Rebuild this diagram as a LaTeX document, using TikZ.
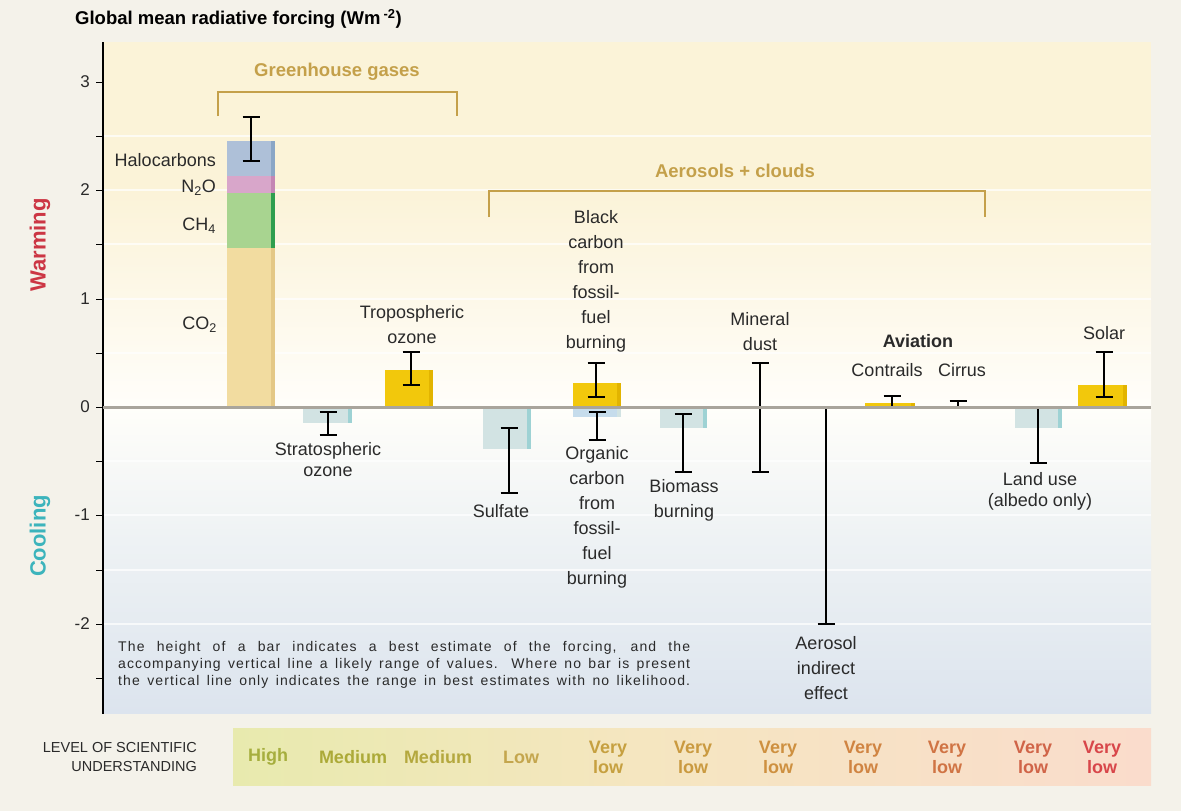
\documentclass[tikz,border=0pt]{standalone}
\usepackage{fontspec}
\setmainfont{Liberation Sans}
\newfontfamily\notefont[LetterSpace=8]{Liberation Sans}
\definecolor{outerbg}{HTML}{F4F2EA}
\definecolor{warmtop}{HTML}{FBF3D8}
\definecolor{warmmid}{HTML}{FDF8E9}
\definecolor{nearzero}{HTML}{FFFEFA}
\definecolor{coolmid}{HTML}{EEF2F4}
\definecolor{coolbot}{HTML}{DCE4EE}
\definecolor{labtxt}{HTML}{2A2A2A}
\definecolor{golden}{HTML}{C4A04A}
\definecolor{zeroln}{HTML}{A9A59C}
\definecolor{warmred}{HTML}{CC3644}
\definecolor{coolteal}{HTML}{3CB4BC}
\definecolor{co2c}{HTML}{F2DCA0}\definecolor{co2e}{HTML}{E4C886}
\definecolor{ch4c}{HTML}{A8D490}\definecolor{ch4e}{HTML}{2E9E4E}
\definecolor{n2oc}{HTML}{D8A6CA}\definecolor{n2oe}{HTML}{C486B4}
\definecolor{haloc}{HTML}{AEC0D8}\definecolor{haloe}{HTML}{8AA6C6}
\definecolor{yelc}{HTML}{F2C80C}\definecolor{yele}{HTML}{E2B400}
\definecolor{negc}{HTML}{D2E3E3}\definecolor{nege}{HTML}{9ED2D4}
\definecolor{occ}{HTML}{C6DCEC}
\definecolor{losuL}{HTML}{E8EAAE}\definecolor{losuM}{HTML}{F5E6C0}\definecolor{losuR}{HTML}{FADCCC}
\definecolor{lA}{HTML}{A6AE3E}\definecolor{lB}{HTML}{ACAA38}\definecolor{lC}{HTML}{B4A83E}
\definecolor{lD}{HTML}{C4A64E}\definecolor{lE}{HTML}{C6A040}\definecolor{lF}{HTML}{CA9A40}
\definecolor{lG}{HTML}{CE9040}\definecolor{lH}{HTML}{D08442}\definecolor{lI}{HTML}{D07444}
\definecolor{lJ}{HTML}{D06448}\definecolor{lK}{HTML}{D8464A}
% error bar with caps: x, y1, y2
\newcommand\errbar[3]{%
  \draw[err] (#1,#2) -- (#1,#3);
  \draw[err] (#1-8.5,#2) -- (#1+8.5,#2);
  \draw[err] (#1-8.5,#3) -- (#1+8.5,#3);}
% bar with darker right edge: x1, x2, ytop, ybottom, body, edge
\newcommand\fbar[6]{%
  \fill[#5] (#1,#3) rectangle (#2,#4);
  \fill[#6] (#2-4.5,#3) rectangle (#2,#4);}
\begin{document}
\begin{tikzpicture}[x=1pt,y=-1pt,
  err/.style={black, line width=1.5pt},
  lbl/.style={font=\fontsize{18}{25}\selectfont, text=labtxt, align=center, inner sep=0pt},
  lbltight/.style={font=\fontsize{18}{21}\selectfont, text=labtxt, align=center, inner sep=0pt},
  ticklbl/.style={font=\fontsize{17}{20}\selectfont, text=labtxt, anchor=east, inner sep=0pt},
  grouplbl/.style={font=\fontsize{18.5}{22}\selectfont\bfseries, text=golden, inner sep=0pt},
  bracket/.style={golden, line width=1.3pt},
  losu/.style={font=\fontsize{18}{20}\selectfont\bfseries, align=center, inner sep=0pt},
  notelbl/.style={font=\fontsize{14}{16.5}\selectfont\notefont, text=labtxt, anchor=west, inner sep=0pt}]
\useasboundingbox (0,0) rectangle (1181,811);
\fill[outerbg] (0,0) rectangle (1181,811);

% plot background: warm tint above zero, cool tint below
\fill[warmtop] (104,42) rectangle (1151,190);
\shade[top color=warmtop, bottom color=warmmid] (104,189.5) rectangle (1151,300);
\shade[top color=warmmid, bottom color=nearzero] (104,299.5) rectangle (1151,407);
\shade[top color=nearzero, bottom color=coolmid] (104,407) rectangle (1151,540);
\shade[top color=coolmid, bottom color=coolbot] (104,539.5) rectangle (1151,713);
\foreach \yy in {136,190,244,299,353,461,515,570,624}
  \draw[white, line width=1.2pt, opacity=0.7] (104,\yy) -- (1151,\yy);

% title
\node[anchor=west, inner sep=0pt, font=\fontsize{18.5}{22}\selectfont\bfseries, text=black] (title) at (75,19)
  {Global mean radiative forcing (Wm\,\textsuperscript{-2})};

% vertical axis and ticks
\draw[black, line width=1.6pt] (103,42) -- (103,714);
\foreach \yy in {82,136,190,244,299,353,407,461,515,570,624,678}
  \draw[black, line width=1pt] (96,\yy) -- (103,\yy);
\node[ticklbl] (t3) at (90,82) {3};
\node[ticklbl] (t2) at (90,190) {2};
\node[ticklbl] (t1) at (90,299) {1};
\node[ticklbl] (t0) at (90,407) {0};
\node[ticklbl] (tm1) at (90,515) {-1};
\node[ticklbl] (tm2) at (90,624) {-2};
\node[rotate=90, inner sep=0pt, font=\fontsize{22}{24}\selectfont\bfseries, text=warmred] (warm) at (40,245) {Warming};
\node[rotate=90, inner sep=0pt, font=\fontsize{22}{24}\selectfont\bfseries, text=coolteal] (cool) at (40,536) {Cooling};

% group brackets
\draw[bracket] (218,116) -- (218,92) -- (457,92) -- (457,116);
\node[grouplbl] (ghg) at (337,72) {Greenhouse gases};
\draw[bracket] (489,217) -- (489,191) -- (985,191) -- (985,217);
\node[grouplbl] (aer) at (735,171) {Aerosols + clouds};

% well-mixed greenhouse gases (stacked)
\fbar{227}{275}{248}{407}{co2c}{co2e}
\fbar{227}{275}{193}{248}{ch4c}{ch4e}
\fbar{227}{275}{176}{193}{n2oc}{n2oe}
\fbar{227}{275}{141}{176}{haloc}{haloe}
\errbar{251}{117}{161}
\node[lbl, anchor=east] (halo) at (216,160) {Halocarbons};
\node[lbl, anchor=east] (n2o) at (216,188) {N\textsubscript{2}O};
\node[lbl, anchor=east] (ch4) at (216,226) {CH\textsubscript{4}};
\node[lbl, anchor=east] (co2) at (217,325) {CO\textsubscript{2}};

% ozone
\fbar{303}{352}{407}{423}{negc}{nege}
\errbar{328}{412}{435}
\node[lbltight] (strat) at (328,460) {Stratospheric\\ozone};
\fbar{385}{433}{370}{407}{yelc}{yele}
\errbar{411}{352}{385}
\node[lbl] (trop) at (412,325) {Tropospheric\\ozone};

% aerosols
\fbar{483}{531}{407}{449}{negc}{nege}
\errbar{509}{428}{493}
\node[lbl] (sulf) at (501,511) {Sulfate};
\fbar{573}{621}{407}{417}{occ}{negc}
\fbar{573}{621}{383}{407}{yelc}{yele}
\errbar{596}{363}{397}
\errbar{597}{412}{440}
\node[lbl] (bc) at (596,281.5) {Black\\carbon\\from\\fossil-\\fuel\\burning};
\node[lbl] (oc) at (597,517) {Organic\\carbon\\from\\fossil-\\fuel\\burning};
\fbar{660}{707}{407}{428}{negc}{nege}
\errbar{683}{414}{472}
\node[lbl] (bio) at (684,500) {Biomass\\burning};
\errbar{760}{363}{472}
\node[lbl] (dust) at (760,332) {Mineral\\dust};
\draw[err] (826,407) -- (826,624);
\draw[err] (817.5,624) -- (834.5,624);
\node[lbl] (ind) at (826,668) {Aerosol\\indirect\\effect};

% aviation
\fbar{865}{915}{403}{407}{yelc}{yele}
\draw[err] (892,396) -- (892,407);
\draw[err] (883.5,396) -- (900.5,396);
\draw[err] (958,401) -- (958,407);
\draw[err] (949.5,401) -- (966.5,401);
\node[lbl, font=\fontsize{18}{25}\selectfont\bfseries] (avi) at (918,341) {Aviation};
\node[lbl] (contr) at (887,370) {Contrails};
\node[lbl] (cirr) at (962,370) {Cirrus};

% land use and solar
\fbar{1015}{1062}{407}{428}{negc}{nege}
\draw[err] (1038,407) -- (1038,463);
\draw[err] (1029.5,463) -- (1046.5,463);
\node[lbltight] (land) at (1040,491.5) {Land use\\(albedo only)};
\fbar{1078}{1127}{385}{407}{yelc}{yele}
\errbar{1104}{352}{397}
\node[lbl] (solar) at (1104,333) {Solar};

% zero line
\draw[zeroln, line width=3pt] (103,407) -- (1151,407);

% explanatory note
\node[notelbl] (n1) at (118,648) {\makebox[572pt][s]{The height of a bar indicates a best estimate of the forcing, and the}};
\node[notelbl] (n2) at (118,665) {\makebox[572pt][s]{accompanying vertical line a likely range of values. Where no bar is present}};
\node[notelbl] (n3) at (118,681.5) {\makebox[572pt][s]{the vertical line only indicates the range in best estimates with no likelihood.}};

% level of scientific understanding
\shade[left color=losuL, right color=losuM] (233,728) rectangle (640,785);
\shade[left color=losuM, right color=losuR] (639.5,728) rectangle (1151,785);
\node[anchor=east, align=right, inner sep=0pt, font=\fontsize{14.5}{20}\selectfont, text=labtxt] (losu) at (197,757)
  {LEVEL OF SCIENTIFIC\\UNDERSTANDING};
\node[losu, text=lA] (u1) at (268,757) {High};
\node[losu, text=lB] (u2) at (353,757) {Medium};
\node[losu, text=lC] (u3) at (438,757) {Medium};
\node[losu, text=lD] (u4) at (521,757) {Low};
\node[losu, text=lE] (u5) at (608,757) {Very\\low};
\node[losu, text=lF] (u6) at (693,757) {Very\\low};
\node[losu, text=lG] (u7) at (778,757) {Very\\low};
\node[losu, text=lH] (u8) at (863,757) {Very\\low};
\node[losu, text=lI] (u9) at (947,757) {Very\\low};
\node[losu, text=lJ] (u10) at (1033,757) {Very\\low};
\node[losu, text=lK] (u11) at (1102,757) {Very\\low};
\end{tikzpicture}
\end{document}
